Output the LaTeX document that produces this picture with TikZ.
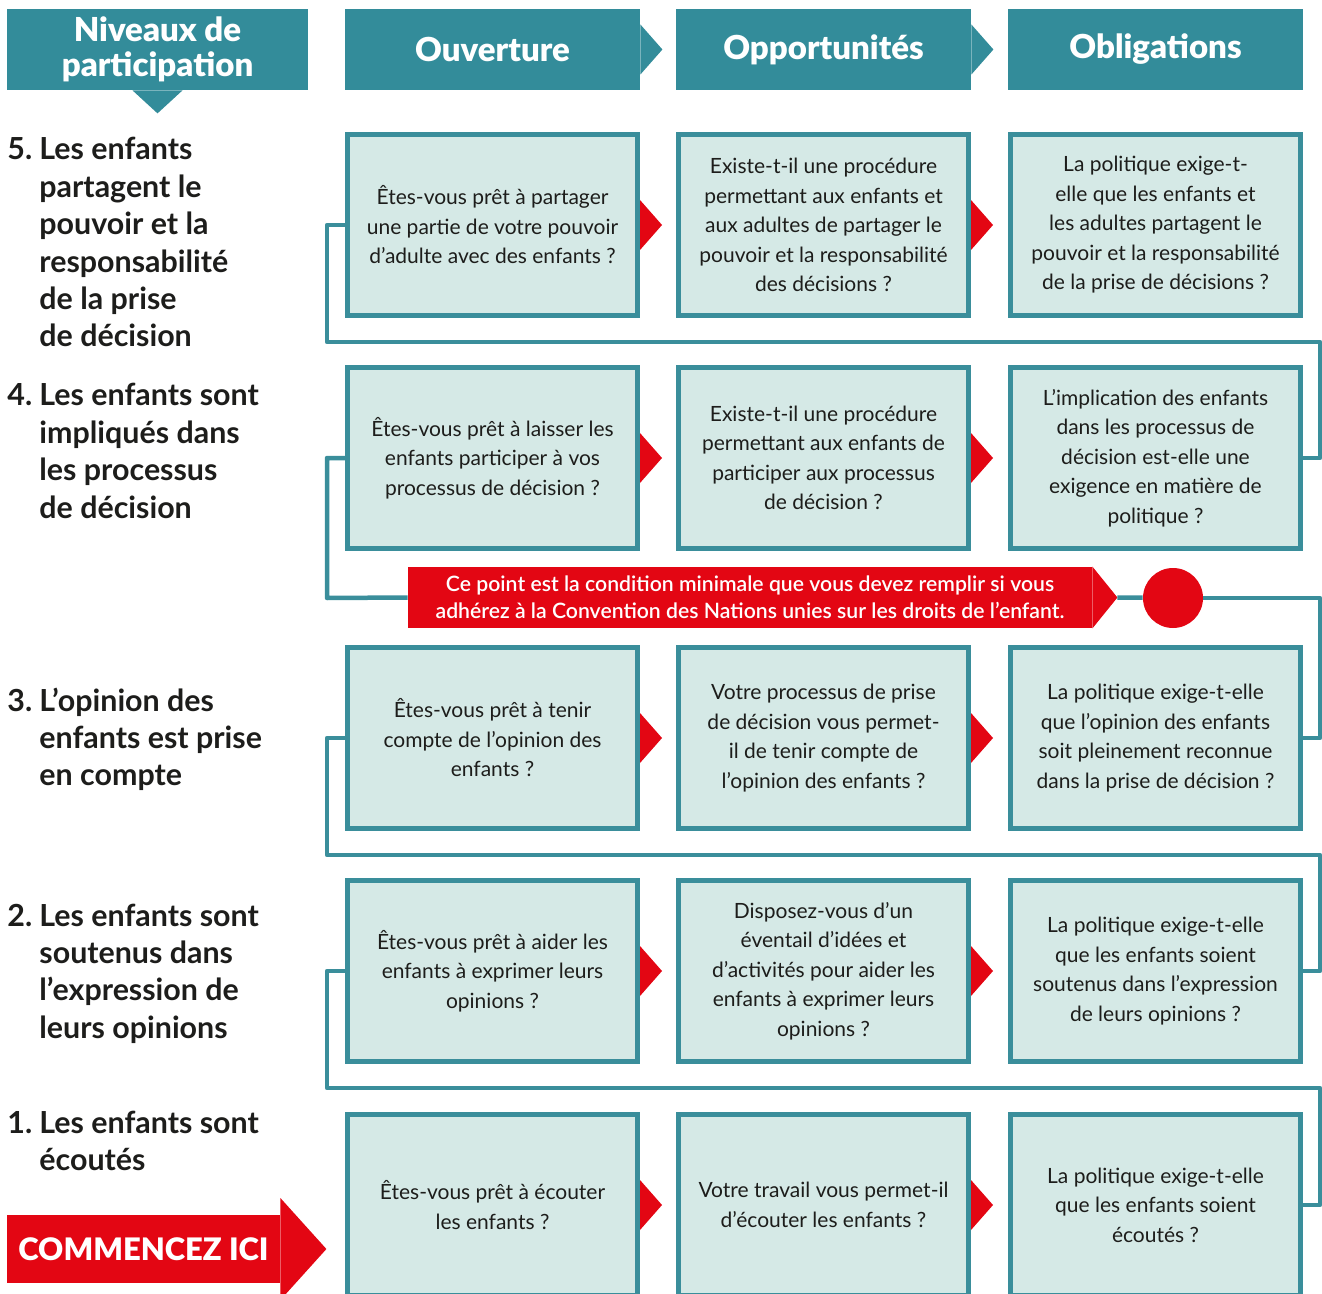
\documentclass[tikz,border=0pt]{standalone}
\usepackage{fontspec}
\setmainfont{Lato}
\newfontfamily\heavyfont{Lato Black}
\newfontfamily\midfont{Lato Semibold}
\usetikzlibrary{positioning}
\definecolor{headteal}{HTML}{338C9A}
\definecolor{lineteal}{HTML}{3A8E9B}
\definecolor{cellfill}{HTML}{D5E9E6}
\definecolor{alertred}{HTML}{E30613}
\definecolor{ink}{HTML}{1D1D1B}
% pointer on the right side of a node
\newcommand{\tip}[2][alertred]{\fill[#1] ([yshift=12.5pt]#2.east) -- ([xshift=11pt]#2.east) -- ([yshift=-12.5pt]#2.east) -- cycle;}
\newcommand{\lvl}[2]{\begin{tabular}[t]{@{}p{16pt}@{}l@{}}#1 & #2\end{tabular}}

\begin{document}
\begin{tikzpicture}[
      x=0.5pt, y=-0.5pt,
      head/.style={fill=headteal, text=white, font=\fontsize{16.5}{17.5}\selectfont\heavyfont, minimum width=147.5pt, minimum height=40.5pt, inner sep=0pt, align=center},
      cell/.style={draw=lineteal, line width=2.5pt, fill=cellfill, minimum width=145pt, minimum height=90.5pt, inner sep=0pt, align=center, text=ink, font=\fontsize{10.5}{14.75}\selectfont},
      link/.style={draw=lineteal, line width=2.25pt, line join=round},
      level/.style={anchor=base west, inner sep=0pt, text=ink, font=\fontsize{15.2}{18.7}\selectfont\bfseries}
    ]
      \useasboundingbox (0,0) rectangle (1322,1294);

      % Column headers
      \node[head, minimum width=150.5pt] (hlev) at (157.5,49.5) {Niveaux de\\participation};
      \node[head] (hopen) at (492.5,49.5) {Ouverture};
      \node[head] (hopp) at (823.5,49.5) {Opportunités};
      \node[head] (hobl) at (1155.5,49.5) {Obligations};
      \fill[headteal] ([xshift=-12.5pt]hlev.south) -- ([yshift=-11.5pt]hlev.south) -- ([xshift=12.5pt]hlev.south) -- cycle;
      \tip[headteal]{hopen} \tip[headteal]{hopp}

      % Levels
      \node[level] (lv5) at (7,160) {\lvl{5.}{Les enfants\\ & partagent le\\ & pouvoir et la\\ & responsabilité\\ & de la prise\\ & de décision}};
      \node[level] (lv4) at (7,406) {\lvl{4.}{Les enfants sont\\ & impliqués dans\\ & les processus\\ & de décision}};
      \node[level] (lv3) at (7,711) {\lvl{3.}{L’opinion des\\ & enfants est prise\\ & en compte}};
      \node[level] (lv2) at (7,926) {\lvl{2.}{Les enfants sont\\ & soutenus dans\\ & l’expression de\\ & leurs opinions}};
      \node[level] (lv1) at (7,1133) {\lvl{1.}{Les enfants sont\\ & écoutés}};

      % Level 5
      \node[cell] (b5a) at (492.5,225) {Êtes-vous prêt à partager\\une partie de votre pouvoir\\d’adulte avec des enfants~?};
      \node[cell] (b5b) at (823.5,225) {Existe-t-il une procédure\\permettant aux enfants et\\aux adultes de partager le\\pouvoir et la responsabilité\\des décisions~?};
      \node[cell] (b5c) at (1155.5,225) {La politique exige-t-\\elle que les enfants et\\les adultes partagent le\\pouvoir et la responsabilité\\de la prise de décisions~?};

      % Level 4
      \node[cell] (b4a) at (492.5,458) {Êtes-vous prêt à laisser les\\enfants participer à vos\\processus de décision~?};
      \node[cell] (b4b) at (823.5,458) {Existe-t-il une procédure\\permettant aux enfants de\\participer aux processus\\de décision~?};
      \node[cell] (b4c) at (1155.5,458) {L’implication des enfants\\dans les processus de\\décision est-elle une\\exigence en matière de\\politique~?};

      % Level 3
      \node[cell] (b3a) at (492.5,738) {Êtes-vous prêt à tenir\\compte de l’opinion des\\enfants~?};
      \node[cell] (b3b) at (823.5,738) {Votre processus de prise\\de décision vous permet-\\il de tenir compte de\\l’opinion des enfants~?};
      \node[cell] (b3c) at (1155.5,738) {La politique exige-t-elle\\que l’opinion des enfants\\soit pleinement reconnue\\dans la prise de décision~?};

      % Level 2
      \node[cell] (b2a) at (492.5,971) {Êtes-vous prêt à aider les\\enfants à exprimer leurs\\opinions~?};
      \node[cell] (b2b) at (823.5,971) {Disposez-vous d’un\\éventail d’idées et\\d’activités pour aider les\\enfants à exprimer leurs\\opinions~?};
      \node[cell] (b2c) at (1155.5,971) {La politique exige-t-elle\\que les enfants soient\\soutenus dans l’expression\\de leurs opinions~?};

      % Level 1
      \node[cell] (b1a) at (492.5,1205) {Êtes-vous prêt à écouter\\les enfants~?};
      \node[cell] (b1b) at (823.5,1205) {Votre travail vous permet-il\\d’écouter les enfants~?};
      \node[cell] (b1c) at (1155.5,1205) {La politique exige-t-elle\\que les enfants soient\\écoutés~?};

      % Red pointers between cells
      \tip{b5a} \tip{b5b}
      \tip{b4a} \tip{b4b}
      \tip{b3a} \tip{b3b}
      \tip{b2a} \tip{b2b}
      \tip{b1a} \tip{b1b}

      % Minimum condition
      \node[fill=alertred, text=white, minimum width=342pt, minimum height=30.5pt, inner sep=0pt, align=center, font=\fontsize{10.6}{13.5}\selectfont\midfont] (note) at (750,597.5) {Ce point est la condition minimale que vous devez remplir si vous\\adhérez à la Convention des Nations unies sur les droits de l’enfant.};
      \fill[alertred] (note.north east) -- ([xshift=12.5pt]note.east) -- (note.south east) -- cycle;
      \coordinate (notetip) at ([xshift=12.5pt]note.east);
      \node[circle, fill=alertred, minimum size=30pt, inner sep=0pt] (dot) at (1173,598) {};

      % Start
      \node[fill=alertred, text=white, minimum width=136.5pt, minimum height=34pt, inner sep=0pt, font=\fontsize{15.5}{16}\selectfont\heavyfont] (start) at (143.5,1249) {COMMENCEZ ICI};
      \fill[alertred] ([yshift=25.5pt]start.east) -- ([xshift=23pt]start.east) -- ([yshift=-25.5pt]start.east) -- cycle;

      % Corners of the path
      \coordinate (g54) at (327,342);  \coordinate (h54) at (1320,342);
      \coordinate (g43) at (327,598);  \coordinate (h43) at (1320,598);
      \coordinate (g32) at (327,855);  \coordinate (h32) at (1320,855);
      \coordinate (g21) at (327,1088); \coordinate (h21) at (1320,1088);

      % Path from level to level
      \draw[link] (b1c.east) -| (h21) -- (g21) |- (b2a.west);
      \draw[link] (b2c.east) -| (h32) -- (g32) |- (b3a.west);
      \draw[link] (b3c.east) -| (h43) -- (dot);
      \draw[link] (notetip) -- (dot);
      \draw[link] (note.west) -- (g43) |- (b4a.west);
      \draw[link] (b4c.east) -| (h54) -- (g54) |- (b5a.west);
    \end{tikzpicture}
\end{document}
